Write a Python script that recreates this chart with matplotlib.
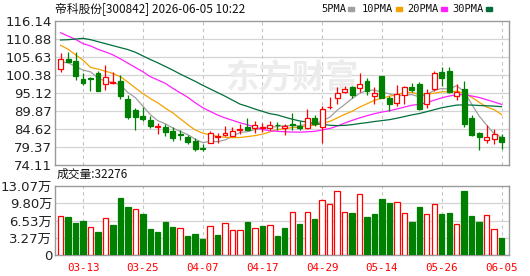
import matplotlib
matplotlib.use("Agg")
import matplotlib.pyplot as plt
from matplotlib.patches import Rectangle
import numpy as np
import pandas as pd

plt.rcParams['font.family'] = ['DejaVu Sans', 'Noto Sans CJK SC']

title = "帝科股份[300842] 2026-06-05 10:22"
last_vol = 32276

# daily candles
opens = [102.11, 105.19, 104.42, 99.12, 99.40, 100.86, 97.87, 98.00, 98.64, 93.43,
         90.15, 88.52, 87.26, 85.30, 85.33, 84.17, 83.02, 82.15, 81.19, 79.16,
         80.51, 82.40, 82.98, 82.54, 84.40, 85.24, 84.85, 84.90, 84.95, 85.90,
         84.95, 86.20, 85.62, 84.85, 87.94, 85.14, 90.90, 93.53, 95.55, 96.99,
         96.52, 98.73, 94.30, 100.18, 93.62, 92.27, 94.49, 96.81, 97.67, 91.79,
         96.33, 101.14, 101.43, 94.30, 96.23, 87.84, 83.31, 81.38, 81.67, 82.25]
highs = [106.73, 106.99, 106.99, 101.05, 99.70, 101.63, 103.17, 101.14, 100.47, 94.68,
         90.83, 91.12, 88.52, 86.40, 86.01, 85.24, 84.27, 82.83, 82.06, 80.32,
         83.98, 83.50, 85.62, 85.33, 86.20, 87.84, 86.97, 86.40, 86.97, 86.60,
         86.20, 89.19, 86.88, 90.35, 88.81, 91.31, 94.10, 97.00, 97.29, 97.29,
         100.86, 99.60, 96.81, 100.18, 94.30, 97.58, 97.10, 98.15, 98.44, 96.23,
         101.63, 102.59, 102.78, 97.77, 98.54, 88.61, 83.69, 85.91, 84.66, 83.12]
lows = [101.34, 104.13, 99.02, 97.38, 95.84, 95.75, 96.04, 97.77, 93.43, 87.65,
        84.27, 86.88, 84.85, 83.10, 82.54, 81.09, 81.38, 80.23, 78.10, 78.30,
        80.42, 80.60, 82.54, 82.54, 83.10, 84.27, 83.50, 83.80, 84.27, 84.30,
        82.73, 84.27, 84.47, 84.66, 85.62, 80.42, 90.50, 91.80, 95.17, 93.62,
        95.55, 94.68, 91.99, 93.72, 89.77, 91.22, 91.80, 95.36, 90.25, 90.83,
        95.65, 97.19, 95.07, 93.14, 85.14, 82.54, 78.49, 80.42, 80.32, 78.78]
closes = [105.10, 104.13, 100.08, 98.06, 99.20, 95.75, 99.89, 98.20, 94.30, 88.23,
          88.23, 87.65, 85.62, 85.50, 83.79, 81.96, 82.83, 80.90, 78.87, 78.78,
          83.41, 82.70, 83.37, 84.08, 84.50, 84.47, 85.72, 85.10, 85.72, 85.70,
          85.62, 85.90, 84.95, 87.84, 86.01, 90.35, 91.00, 95.17, 96.23, 94.68,
          97.87, 95.65, 95.26, 93.72, 91.80, 94.88, 96.81, 96.04, 90.54, 95.17,
          100.86, 99.50, 95.36, 95.55, 86.20, 82.83, 82.15, 82.25, 83.02, 80.71]

# volume in 万手, 1 = red (up) bar, 0 = green
vols = [7.43, 7.24, 5.97, 6.48, 5.27, 4.44, 6.98, 5.71, 10.86, 9.14,
        8.70, 7.81, 4.95, 4.44, 6.29, 5.33, 5.08, 3.62, 4.00, 3.05,
        5.46, 3.81, 6.03, 4.70, 4.70, 6.29, 5.08, 5.52, 5.65, 3.62,
        5.14, 8.13, 5.90, 8.13, 6.86, 10.41, 9.71, 12.13, 8.13, 8.00,
        11.56, 7.24, 7.81, 10.67, 9.90, 10.03, 8.00, 6.16, 9.14, 7.75,
        9.71, 7.81, 8.00, 5.90, 12.19, 7.43, 6.29, 7.56, 4.89, 3.24]
vol_up = [1, 0, 0, 0, 1, 0, 1, 0, 0, 0,
          1, 0, 0, 0, 0, 0, 1, 0, 0, 0,
          1, 0, 1, 1, 1, 0, 1, 0, 1, 0,
          0, 1, 0, 1, 0, 1, 1, 1, 1, 0,
          1, 0, 0, 0, 0, 1, 1, 0, 0, 1,
          1, 0, 0, 1, 0, 0, 0, 1, 1, 0]

# moving-average values before the window is full
ma5_head = [104.23, 103.94, 102.88, 101.82]
ma10_head = [109.05, 107.89, 106.25, 104.71, 102.60, 102.10, 101.50, 100.80, 99.90]
ma20_head = [112.71, 111.75, 110.78, 109.53, 108.86, 107.89, 107.12, 106.25, 105.10,
             103.84, 102.59, 101.34, 99.89, 98.93, 97.96, 96.50, 95.20, 93.90, 92.30]
ma30_head = [110.59, 110.69, 110.88, 111.07, 110.69, 110.11, 109.53, 108.95, 108.37,
             107.80, 107.02, 105.96, 104.90, 103.94, 102.88, 101.82, 100.66, 99.60,
             98.54, 97.38, 96.33, 95.26, 94.20, 93.04, 91.89, 91.21, 90.44, 89.77, 89.09]

tick_idx = [3, 11, 19, 27, 35, 43, 51, 59]
tick_dates = ['03-13', '03-25', '04-07', '04-17', '04-29', '05-14', '05-26', '06-05']
price_ticks = [74.11, 79.37, 84.62, 89.87, 95.12, 100.38, 105.63, 110.88, 116.14]
vol_ticks = [0, 3.27, 6.53, 9.80, 13.07]
vol_tick_labels = ['0', '3.27万', '6.53万', '9.80万', '13.07万']

ma_names = ['5PMA', '10PMA', '20PMA', '30PMA']
ma_colors = ['#A0A0A0', '#F5A200', '#FF20FF', '#006F3C']

RED = '#FF0000'
GREEN = '#008000'
W, H = 530, 276


def moving_avg(head, n):
    s = pd.Series(closes).rolling(n).mean().to_numpy()
    s[:len(head)] = head
    return s


mas = [moving_avg(ma5_head, 5), moving_avg(ma10_head, 10),
       moving_avg(ma20_head, 20), moving_avg(ma30_head, 30)]

fig = plt.figure(figsize=(W / 100, H / 100), dpi=100)
ax = fig.add_axes([55 / W, 1 - 165 / H, 454 / W, 144 / H])
axv = fig.add_axes([55 / W, 1 - 255 / H, 454 / W, 69 / H])

x = np.arange(len(closes))

for a in (ax, axv):
    a.set_xlim(-0.75, 60.0)
    for s in a.spines.values():
        s.set_color('#9A9A9A')
        s.set_linewidth(1.0)
    a.tick_params(length=0, labelsize=9.5, labelcolor='#222222', pad=2)
    for t in tick_idx:
        a.axvline(t, color='#C4C4C4', lw=0.8, ls=(0, (3, 3)), zorder=0)

# price panel
ax.set_ylim(price_ticks[0], price_ticks[-1])
ax.set_yticks(price_ticks)
ax.set_yticklabels([f'{v:.2f}' for v in price_ticks])
ax.set_xticks([])
for v in price_ticks[1:-1]:
    ax.axhline(v, color='#D4D4D4', lw=0.9, zorder=0)

# watermark
ax.text(31.0, 99.3, '东方财富', fontsize=24, fontweight='bold', color='#ECECEC',
        family=['Noto Sans CJK SC'], ha='center', va='center', zorder=0.5)

bw = 0.66
for i in x:
    o, h, l, c = opens[i], highs[i], lows[i], closes[i]
    up = c >= o
    col = RED if up else GREEN
    ax.vlines(i, l, h, color=col, lw=0.9, zorder=3)
    bot = min(o, c)
    ht = max(abs(c - o), 0.01)
    ax.add_patch(Rectangle((i - bw / 2, bot), bw, ht,
                           facecolor='white' if up else col, edgecolor=col,
                           lw=0.9, zorder=4))

for m, col in zip(mas, ma_colors):
    ax.plot(x, m, color=col, lw=0.9, zorder=2)

# volume panel
axv.set_ylim(0, vol_ticks[-1])
axv.set_yticks(vol_ticks)
axv.set_yticklabels(vol_tick_labels)
for v in vol_ticks[1:-1]:
    axv.axhline(v, color='#D4D4D4', lw=0.9, zorder=0)
for i in x:
    col = RED if vol_up[i] else GREEN
    axv.add_patch(Rectangle((i - 0.36, 0), 0.72, vols[i],
                            facecolor='white' if vol_up[i] else col,
                            edgecolor=col, lw=0.9, zorder=3))
axv.set_xticks(tick_idx)
axv.set_xticklabels(tick_dates, family='DejaVu Sans Mono', fontsize=7.8,
                    color=RED)
axv.tick_params(axis='x', pad=5.5)

# header texts
fig.text(55 / W, 1 - 9 / H, title, fontsize=8.5, family=['Noto Sans CJK SC'],
         va='center', ha='left', color='#111111')
fig.text(57 / W, 1 - 174 / H, f'成交量:{last_vol}', fontsize=8.5,
         family=['Noto Sans CJK SC'], va='center', ha='left', color='#111111')

lx = [321, 362, 407, 452]
for name, col, px in zip(ma_names, ma_colors, lx):
    fig.text(px / W, 1 - 9 / H, name, fontsize=7.5, family=['DejaVu Sans Mono'],
             va='center', ha='left', color='#111111')
    sq = px + 7 * len(name) - 1
    fig.patches.append(Rectangle((sq / W, 1 - 11 / H), 6 / W, 4 / H,
                                 transform=fig.transFigure, color=col))

fig.savefig('out.png', dpi=100)
